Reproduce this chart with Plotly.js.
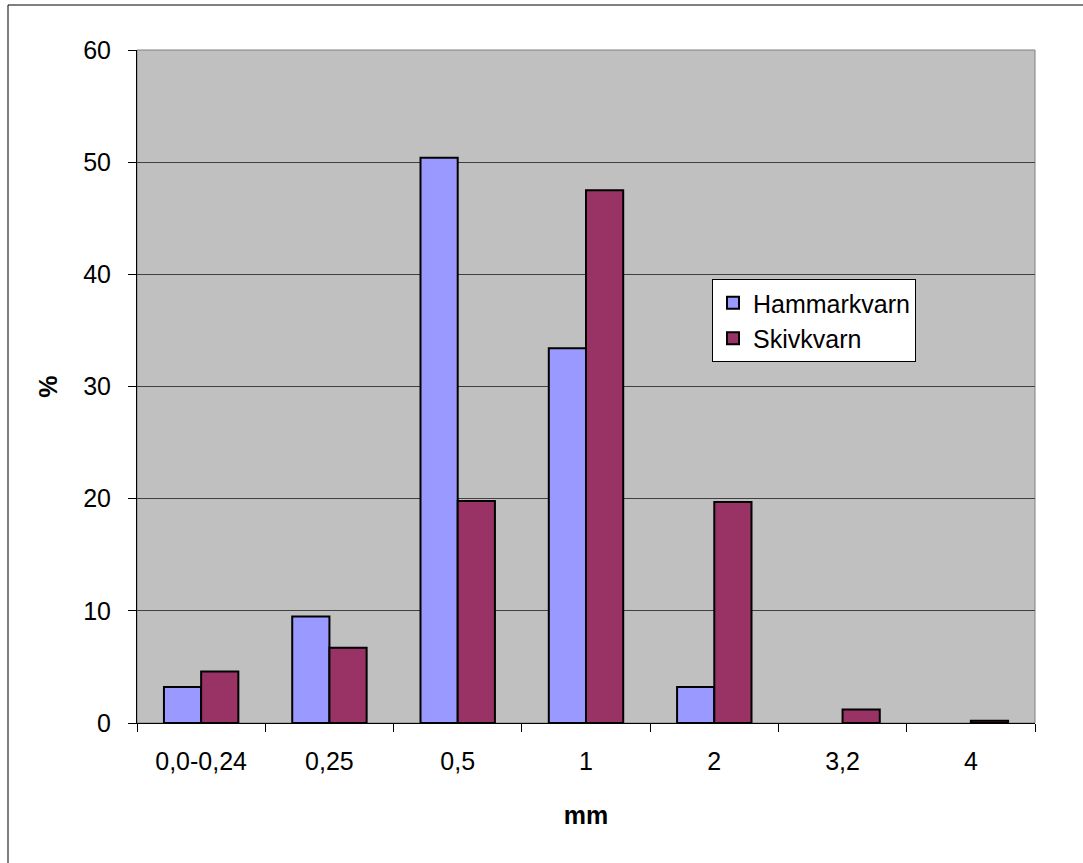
<!DOCTYPE html>
<html>
<head>
<meta charset="utf-8">
<script src="https://cdn.plot.ly/plotly-3.0.1.min.js"></script>
<style>html,body{margin:0;padding:0;background:#fff;}#chart{width:1083px;height:863px;}</style>
</head>
<body>
<div id="chart"></div>
<script>
const categories = ["0,0-0,24", "0,25", "0,5", "1", "2", "3,2", "4"];
const hammarkvarn = [3.2, 9.5, 50.4, 33.4, 3.2, 0, 0];
const skivkvarn = [4.6, 6.7, 19.8, 47.5, 19.7, 1.2, 0.2];
const yTicks = [0, 10, 20, 30, 40, 50, 60];

const L = 137, R = 1035, T = 50, B = 723, W = 1083, H = 863;
const pw = R - L, ph = B - T;
const px = x => (x - L) / pw;
const py = y => (B - y) / ph;

const font = {family: "Liberation Sans, Arial, sans-serif", size: 25, color: "#000"};
const lineW = vals => vals.map(v => v === 0 ? 0 : 2);

const traces = [
  {type: "bar", name: "Hammarkvarn", x: categories, y: hammarkvarn,
   marker: {color: "#9999FF", line: {color: "#000", width: lineW(hammarkvarn)}}},
  {type: "bar", name: "Skivkvarn", x: categories, y: skivkvarn,
   marker: {color: "#993366", line: {color: "#000", width: lineW(skivkvarn)}}}
];

const layout = {
  width: W, height: H,
  margin: {l: L, r: W - R, t: T, b: H - B, pad: 0},
  paper_bgcolor: "#fff", plot_bgcolor: "#C0C0C0",
  font: font,
  barmode: "group", bargap: 0.42, bargroupgap: 0,
  showlegend: true,
  legend: {x: px(712), y: py(279), xanchor: "left", yanchor: "top",
           bgcolor: "#fff", bordercolor: "#000", borderwidth: 1,
           font: {family: font.family, size: 25, color: "#000"}, tracegroupgap: 0,
           itemwidth: 30},
  xaxis: {type: "category", tickson: "boundaries", ticks: "outside", ticklen: 8,
          tickcolor: "#000", showline: true, linecolor: "#000", linewidth: 1,
          showgrid: false, zeroline: false, tickfont: font, ticklabelstandoff: 16,
          title: {text: "<b>mm</b>", font: font, standoff: 32}},
  yaxis: {range: [0, 60], tickvals: yTicks, ticktext: yTicks.map(String),
          ticks: "outside", ticklen: 8, tickcolor: "#000",
          showline: true, linecolor: "#000", linewidth: 1,
          showgrid: true, gridcolor: "#404040", gridwidth: 1, zeroline: false,
          tickfont: font, ticklabelstandoff: 12,
          title: {text: "<b>%</b>", font: font, standoff: 18}},
  shapes: [
    {type: "rect", xref: "paper", yref: "paper", x0: 0, x1: 1, y0: 0, y1: 1,
     line: {color: "#808080", width: 1}, layer: "below"},
    {type: "rect", xref: "paper", yref: "paper", x0: px(8), x1: px(1095), y0: py(5), y1: py(875),
     line: {color: "#000", width: 1}}
  ]
};

Plotly.newPlot("chart", traces, layout, {displayModeBar: false, staticPlot: true});
</script>
</body>
</html>
